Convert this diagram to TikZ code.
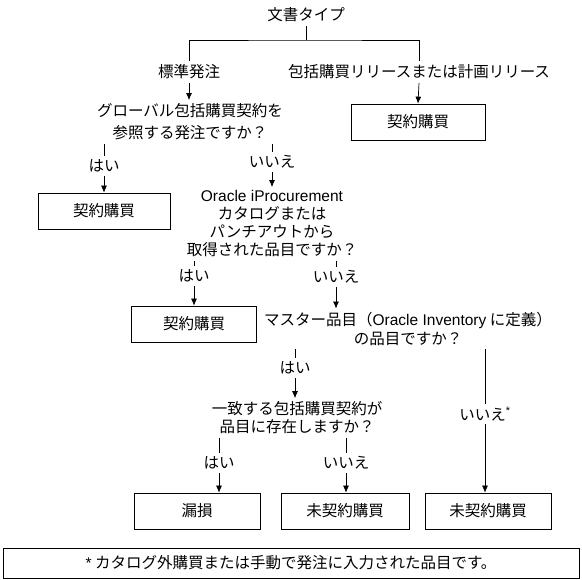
\documentclass[tikz,border=0pt]{standalone}
\usepackage{fontspec}
\setmainfont{Noto Sans CJK JP}
\newfontfamily\latin{Liberation Sans}
\newcommand{\en}[1]{{\latin #1}}
\usetikzlibrary{arrows.meta}

\begin{document}
\begin{tikzpicture}[x=1pt,y=-1pt,line width=0.7pt,
  font=\fontsize{15.5}{19}\selectfont,
  box/.style={draw,minimum width=130pt,minimum height=36pt},
  arr/.style={-{Latex[length=7pt,width=6pt]}}]
\useasboundingbox (0,0) rectangle (582,580);
% top level
\node (doc) at (306,15) {文書タイプ};
\coordinate (fork) at (306,40);
\node (std) at (189,72) {標準発注};
\node (blk) at (419,72) {包括購買リリースまたは計画リリース};
\node[box,minimum width=134pt] (c1) at (418,122) {契約購買};
\draw (doc.south) -- (fork);
\draw (std.north) |- (fork) -| (blk.north);
\draw[arr] (blk.south) -- (c1.north);
% global agreement?
\node[align=center,font=\fontsize{15.5}{22}\selectfont] (q1) at (190,122) {グローバル包括購買契約を\\参照する発注ですか？};
\draw[arr] (std.south) -- (q1.north -| std);
\node (y1) at (104,166) {はい};
\node (n1) at (272,162) {いいえ};
\node[box,minimum width=132pt] (c2) at (104,211) {契約購買};
\draw (q1.south -| y1) -- (y1.north);
\draw[arr] (y1.south) -- (c2.north);
% iProcurement?
\node[align=center,font=\fontsize{15.5}{18}\selectfont] (q2) at (272,224) {\en{Oracle iProcurement}\\カタログまたは\\パンチアウトから\\取得された品目ですか？};
\draw (q1.south -| n1) -- (n1.north);
\draw[arr] (n1.south) -- (q2.north -| n1);
\node (y2) at (194,276) {はい};
\node (n2) at (336,277) {いいえ};
\node[box,minimum width=125pt] (c3) at (194,324) {契約購買};
\draw (q2.south -| y2) -- (y2.north);
\draw[arr] (y2.south) -- (c3.north);
% master item?
\node[align=center] (q3) at (408,329) {マスター品目（\en{Oracle Inventory} に定義）\\の品目ですか？};
\draw (q2.south -| n2) -- (n2.north);
\draw[arr] (n2.south) -- (q3.north -| n2);
\node (y3) at (295,368) {はい};
\node (n3) at (485,414) {いいえ\textsuperscript{\en{*}}};
\node[align=center,font=\fontsize{15.5}{18}\selectfont] (q4) at (297,418) {一致する包括購買契約が\\品目に存在しますか？};
\draw (q3.south -| y3) -- (y3.north);
\draw[arr] (y3.south) -- (q4.north -| y3);
% bottom row
\node (y4) at (219,463) {はい};
\node (n4) at (346,463) {いいえ};
\node[box,minimum width=126pt] (l4) at (197,511) {漏損};
\node[box,minimum width=128pt] (u4) at (345,511) {未契約購買};
\node[box,minimum width=126pt] (u3) at (488,511) {未契約購買};
\draw (q4.south -| y4) -- (y4.north);
\draw[arr] (y4.south) -- (l4.north -| y4);
\draw (q4.south -| n4) -- (n4.north);
\draw[arr] (n4.south) -- (u4.north -| n4);
\draw (q3.south -| n3) -- (n3.north);
\draw[arr] (n3.south) -- (u3.north -| n3);
% footnote
\node[draw,minimum width=576pt,minimum height=30pt] (note) at (291,563) {\en{*} カタログ外購買または手動で発注に入力された品目です。};
\end{tikzpicture}
\end{document}
